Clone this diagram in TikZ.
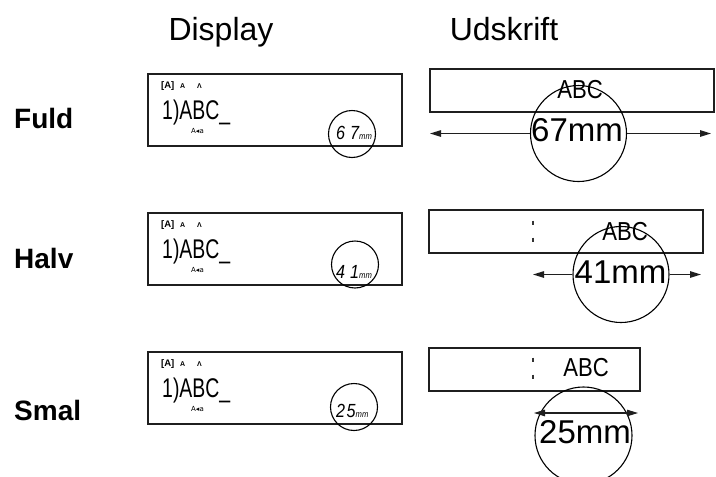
\documentclass[tikz,border=0pt]{standalone}
\usepackage{fontspec}
\usepackage{graphicx}
\setmainfont{Liberation Sans}
\newfontfamily\lcd[FakeStretch=0.72]{Liberation Sans}
\newfontfamily\lcdnum[FakeStretch=0.85]{Liberation Sans}
\newfontfamily\dvs{DejaVu Sans}
\usetikzlibrary{arrows.meta}
\tikzset{
  title/.style={font=\fontsize{32}{36}\selectfont, anchor=base, inner sep=0pt},
  rowlabel/.style={font=\bfseries\fontsize{28}{32}\selectfont, anchor=base west, inner sep=0pt},
  frame/.style={draw=black!88, line width=1.7pt, anchor=north west, inner sep=0pt},
  ring/.style={circle, draw=black, line width=1.1pt, inner sep=0pt},
  txt/.style={inner sep=0pt},
  dimarrow/.style={draw=black!88, line width=1.1pt, -{Triangle[length=11pt,width=6.5pt]}},
  tick/.style={draw=black!80, line width=1.2pt},
}
% #1 top y, #2 circle x, #3 circle y, #4 digits, #5 name prefix
\newcommand\dispcontent[5]{%
  \node[txt, anchor=base west, font=\bfseries\fontsize{9.5}{9.5}\selectfont] (#5ind) at (161,#1+15) {[A]};
  \node[txt, anchor=base west, font=\bfseries\fontsize{7}{7}\selectfont] (#5a) at (180,#1+15) {A};
  \node[txt, anchor=base west, font=\bfseries\fontsize{7}{7}\selectfont] (#5b) at (197,#1+15) {Λ};
  \node[txt, anchor=base west, font=\lcd\fontsize{27}{27}\selectfont] (#5txt) at (162,#1+46) {1)ABC\_};
  \node[txt, anchor=base west, font=\dvs\fontsize{7}{7}\selectfont] (#5mode) at (191,#1+60) {A◂a};
  \node[ring, minimum size=47pt] (#5c) at (#2,#3) {};
  \node[txt, anchor=base west, font=\lcdnum\itshape\fontsize{19}{19}\selectfont] (#5num) at (336,#1+66) {#4{\fontsize{9}{9}\selectfont mm}};
}
\begin{document}
\begin{tikzpicture}[x=1pt,y=-1pt]
\useasboundingbox (0,0) rectangle (716,477);

% column titles
\node[title] (tdisp) at (221,40.5) {Display};
\node[title] (tprint) at (504,40.5) {Udskrift};

% row labels
\node[rowlabel] (lfuld) at (14,128) {Fuld};
\node[rowlabel] (lhalv) at (14,268) {Halv};
\node[rowlabel] (lsmal) at (14,420) {Smal};

% display boxes
\node[frame, minimum width=254pt, minimum height=72pt] (d1) at (147,73) {};
\node[frame, minimum width=254pt, minimum height=72pt] (d2) at (147,212) {};
\node[frame, minimum width=254pt, minimum height=72pt] (d3) at (147,351) {};
\dispcontent{73}{352}{134}{6\hspace{5pt}7}{da}
\dispcontent{212}{355}{264.5}{4\hspace{5pt}1}{db}
\dispcontent{351}{354}{407}{2\hspace{1.5pt}5}{dc}

% ---- print: Fuld
\node[frame, minimum width=284pt, minimum height=43pt] (p1) at (429,68) {};
\node[txt, font=\fontsize{26}{26}\selectfont] (p1abc) at (580,90) {\scalebox{0.85}[1]{ABC}};
\node[ring, minimum size=96pt] (pc1) at (578.5,133.5) {};
\node[txt, font=\fontsize{33}{33}\selectfont] (p1len) at (577,130.5) {67mm};
\coordinate (p1l) at (430,133.5);
\coordinate (p1r) at (711,133.5);
\draw[dimarrow] (pc1.west) -- (p1l);
\draw[dimarrow] (pc1.east) -- (p1r);

% ---- print: Halv
\node[frame, minimum width=274pt, minimum height=43pt] (p2) at (428,209) {};
\coordinate (p2m1) at (533,220.5);
\coordinate (p2m2) at (533,224.5);
\coordinate (p2m3) at (533,237.5);
\coordinate (p2m4) at (533,241.5);
\draw[tick] (p2m1) -- (p2m2);
\draw[tick] (p2m3) -- (p2m4);
\node[txt, font=\fontsize{26}{26}\selectfont] (p2abc) at (625,232) {\scalebox{0.85}[1]{ABC}};
\node[ring, minimum size=96pt] (pc2) at (621,274.5) {};
\node[txt, font=\fontsize{33}{33}\selectfont] (p2len) at (620.5,272.5) {41mm};
\coordinate (p2l) at (533,274.5);
\coordinate (p2r) at (701,274.5);
\draw[dimarrow] (pc2.west) -- (p2l);
\draw[dimarrow] (pc2.east) -- (p2r);

% ---- print: Smal
\node[frame, minimum width=211pt, minimum height=43pt] (p3) at (428,347) {};
\coordinate (p3m1) at (533,357.5);
\coordinate (p3m2) at (533,361.5);
\coordinate (p3m3) at (533,374.5);
\coordinate (p3m4) at (533,378.5);
\draw[tick] (p3m1) -- (p3m2);
\draw[tick] (p3m3) -- (p3m4);
\node[txt, font=\fontsize{26}{26}\selectfont] (p3abc) at (586,368) {\scalebox{0.85}[1]{ABC}};
\node[ring, minimum size=97pt] (pc3) at (583.5,435.5) {};
\node[txt, font=\fontsize{33}{33}\selectfont] (p3len) at (585,432) {25mm};
\coordinate (p3l) at (534,413);
\coordinate (p3r) at (638,413);
\draw[draw=black!88, line width=1.1pt, {Triangle[length=11pt,width=6.5pt]}-{Triangle[length=11pt,width=6.5pt]}] (p3l) -- (p3r);
\end{tikzpicture}
\end{document}
